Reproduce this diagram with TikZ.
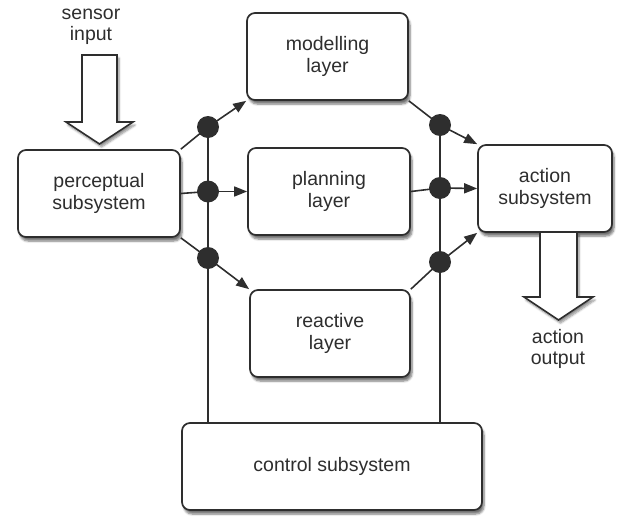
\documentclass[tikz,border=0pt]{standalone}
\usepackage{fontspec}
\setmainfont{Liberation Sans}
\usetikzlibrary{arrows.meta,shadows.blur}
\definecolor{ink}{HTML}{2E2E2E}
\tikzset{
  box/.style={draw=ink, line width=1.7pt, rounded corners=8pt, fill=white,
    minimum height=87pt, align=center, inner sep=0pt, text=ink,
    font=\fontsize{19.5}{21.5}\selectfont,
    blur shadow={shadow xshift=2pt, shadow yshift=-4pt, shadow blur steps=6, shadow opacity=55}},
  dot/.style={circle, fill=ink, inner sep=0pt, minimum size=22pt},
  wire/.style={draw=ink, line width=1.6pt},
  arr/.style={wire, -{Triangle[length=13pt,width=10pt]}},
  blk/.style={draw=ink, line width=1.6pt, fill=white, line join=miter,
    blur shadow={shadow xshift=2pt, shadow yshift=-3pt, shadow blur steps=6, shadow opacity=45}},
  lbl/.style={align=center, text=ink, font=\fontsize{19.5}{21.5}\selectfont}
}
\begin{document}
\begin{tikzpicture}[x=1pt,y=-1pt]
\useasboundingbox (0,0) rectangle (625,517);
% boxes
\node[box, minimum width=162pt] (perc) at (99,193.5) {perceptual\\subsystem};
\node[box, minimum width=161pt] (model) at (327.5,56.5) {modelling\\layer};
\node[box, minimum width=162pt] (plan) at (329,191.5) {planning\\layer};
\node[box, minimum width=160pt] (react) at (330,333.5) {reactive\\layer};
\node[box, minimum width=134pt] (act) at (545,188.5) {action\\subsystem};
\node[box, minimum width=300pt] (ctrl) at (332,466.5) {control subsystem};
% sensor input
\node[lbl] (sens) at (91,27) {sensor\\input};
\draw[blk] (82,55) -- (117,55) -- (117,122) -- (133,122) -- (99.5,144) -- (66,122) -- (82,122) -- cycle;
% action output
\draw[blk] (540,232) -- (577,232) -- (577,297) -- (593,297) -- (558.5,320) -- (524,297) -- (540,297) -- cycle;
\node[lbl] (aout) at (558,349) {action\\output};
% dots
\coordinate (L1) at (208,127);
\coordinate (L2) at (208,191.5);
\coordinate (L3) at (208,258);
\coordinate (R1) at (440,125);
\coordinate (R2) at (440,188);
\coordinate (R3) at (440,262);
% verticals to control
\draw[wire] (L1) -- (L1 |- ctrl.north);
\draw[wire] (R1) -- (R1 |- ctrl.north);
% left fan
\draw[wire] (perc.north east) -- (L1);
\draw[wire] (perc.east) -- (L2);
\draw[wire] (perc.south east) -- (L3);
\draw[arr] (L1) -- (model.south west);
\draw[arr] (L2) -- (plan.west);
\draw[arr] (L3) -- (react.north west);
% right fan
\draw[wire] (model.south east) -- (R1);
\draw[wire] (plan.east) -- (R2);
\draw[wire] (react.north east) -- (R3);
\draw[arr] (R1) -- (act.north west);
\draw[arr] (R2) -- (act.west);
\draw[arr] (R3) -- (act.south west);
% dot nodes
\foreach \p in {L1,L2,L3,R1,R2,R3} \node[dot] (d\p) at (\p) {};
\end{tikzpicture}
\end{document}
